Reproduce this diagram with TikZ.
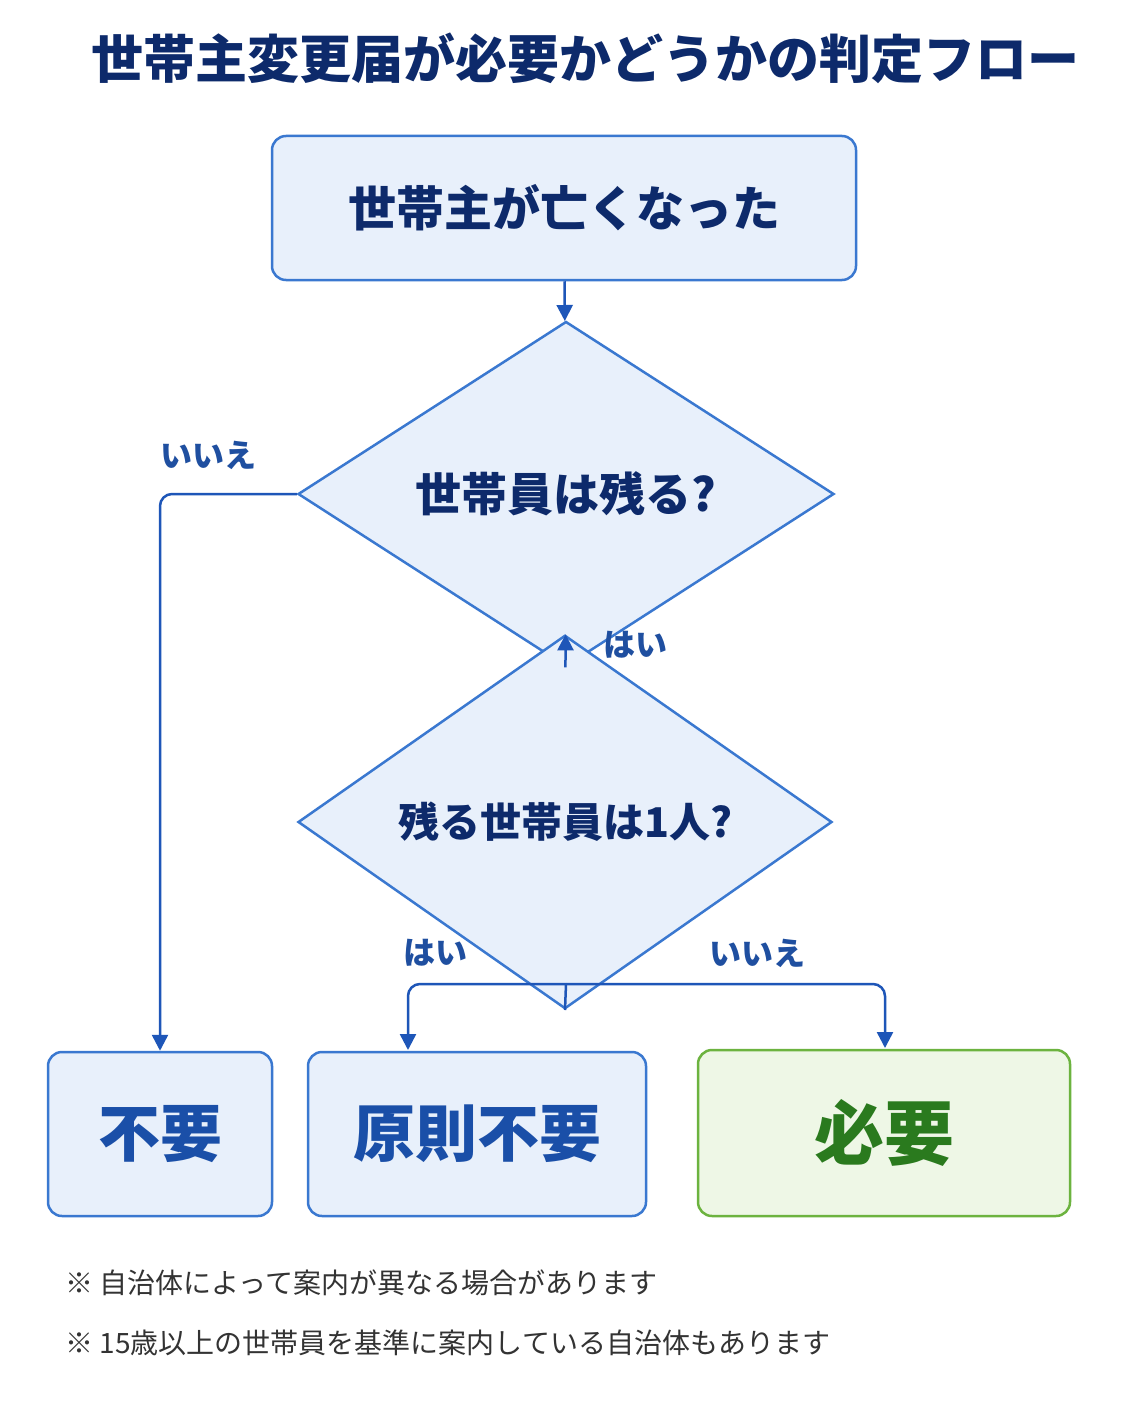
\documentclass[tikz,border=0pt]{standalone}
\usepackage{fontspec}
\setmainfont{Noto Sans CJK JP}
\usetikzlibrary{shapes.geometric,arrows.meta}
\definecolor{navy}{HTML}{0D2A6B}
\definecolor{lbl}{HTML}{1F4FA0}
\definecolor{bfill}{HTML}{E8F0FB}
\definecolor{bdraw}{HTML}{3A78D0}
\definecolor{btext}{HTML}{1A4FA8}
\definecolor{gfill}{HTML}{EEF7E6}
\definecolor{gdraw}{HTML}{6CB33F}
\definecolor{gtext}{HTML}{2A7A1E}
\definecolor{line}{HTML}{1E56B8}
\begin{document}
\begin{tikzpicture}[x=1pt,y=-1pt,
  box/.style={draw=bdraw,fill=bfill,line width=2.5pt,rounded corners=14pt,inner sep=0pt},
  dia/.style={diamond,draw=bdraw,fill=bfill,line width=2.5pt,inner sep=0pt},
  conn/.style={draw=line,line width=2.5pt,-{Triangle[length=16pt,width=16pt]},rounded corners=12pt},
  lab/.style={text=lbl,font=\fontsize{32}{36}\selectfont\bfseries},
  note/.style={text=black!80,font=\fontsize{28}{32}\selectfont,anchor=west}]
\useasboundingbox (0,0) rectangle (1122,1402);
\fill[white] (0,0) rectangle (1122,1402);
\node[text=navy,font=\fontsize{52}{58}\selectfont\bfseries] (title) at (585,58) {世帯主変更届が必要かどうかの判定フロー};
\node[box,minimum width=584pt,minimum height=144pt,text=navy,font=\fontsize{48}{54}\selectfont\bfseries] (start) at (564,208) {世帯主が亡くなった};
\node[dia,minimum width=536pt,minimum height=244pt,text=navy,font=\fontsize{46}{52}\selectfont\bfseries] (d1) at (566,494) {世帯員は残る?};
\node[dia,minimum width=534pt,minimum height=236pt,text=navy,font=\fontsize{41}{48}\selectfont\bfseries] (d2) at (565,822) {残る世帯員は1人?};
\node[box,minimum width=224pt,minimum height=164pt,text=btext,font=\fontsize{62}{70}\selectfont\bfseries] (n1) at (160,1134) {不要};
\node[box,minimum width=338pt,minimum height=164pt,text=btext,font=\fontsize{62}{70}\selectfont\bfseries] (n2) at (477,1134) {原則不要};
\node[box,draw=gdraw,fill=gfill,minimum width=372pt,minimum height=166pt,text=gtext,font=\fontsize{70}{78}\selectfont\bfseries] (n3) at (884,1133) {必要};
\coordinate (split) at (566,984);
\draw[conn] (start) -- (d1);
\draw[conn] (d1) -- (d2);
\draw[conn] (d1.west) -| (n1.north);
\draw[draw=line,line width=2.5pt] (d2.south) -- (split);
\draw[conn] (split) -| (408,1050);
\draw[conn] (split) -| (885,1048);
\node[lab] (l1) at (208,455) {いいえ};
\node[lab] (l2) at (635,645) {はい};
\node[lab] (l3) at (435,953) {はい};
\node[lab] (l4) at (757,953) {いいえ};
\node[note] (t1) at (62,1283) {※ 自治体によって案内が異なる場合があります};
\node[note] (t2) at (62,1343) {※ 15歳以上の世帯員を基準に案内している自治体もあります};
\end{tikzpicture}
\end{document}
